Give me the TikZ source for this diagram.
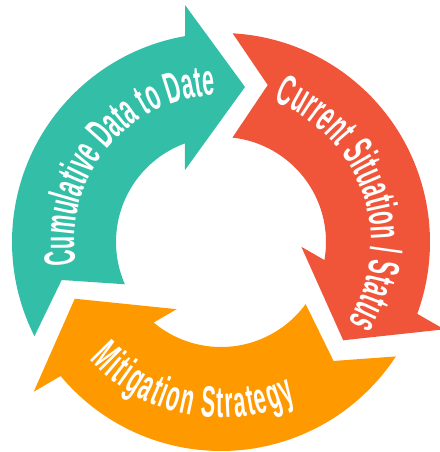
\documentclass[tikz,border=0pt]{standalone}
\usepackage{fontspec}
\usepackage{tikz}
\usetikzlibrary{decorations.text}
\newfontfamily\labelfont[FakeStretch=0.49]{Liberation Sans}
\definecolor{tealc}{HTML}{33BEA7}
\definecolor{redc}{HTML}{F0553A}
\definecolor{orangec}{HTML}{FF9900}
\tikzset{arrowtext/.style={decorate, decoration={text along path, text color=white,
  text align={fit to path}, text={|\labelfont\bfseries\fontsize{25}{25}\selectfont|#1}}}}

\begin{document}
\begin{tikzpicture}[x=0.02cm,y=0.02cm]
\useasboundingbox (-221,-210) rectangle (218,242);
\foreach \ang/\col in {0/tealc,-120/redc,-240/orangec}
  \fill[\col,rotate=\ang] (206.8:209) arc[start angle=206.8,end angle=99.9,radius=209]
    -- (-36,237) -- (24,155) -- (-36,72) -- (110.1:105)
    arc[start angle=110.1,end angle=203.75,radius=105] -- (-159.3,-38) -- cycle; % notched tail
\path[arrowtext={Cumulative Data to Date}] (188.8:147) arc[start angle=188.8,end angle=92.3,radius=147];
\path[arrowtext={Current Situation / Status}] (69.5:150) arc[start angle=69.5,end angle=-32,radius=150];
\path[arrowtext={Mitigation Strategy}] (221.9:176) arc[start angle=221.9,end angle=295.3,radius=176];
\end{tikzpicture}
\end{document}
